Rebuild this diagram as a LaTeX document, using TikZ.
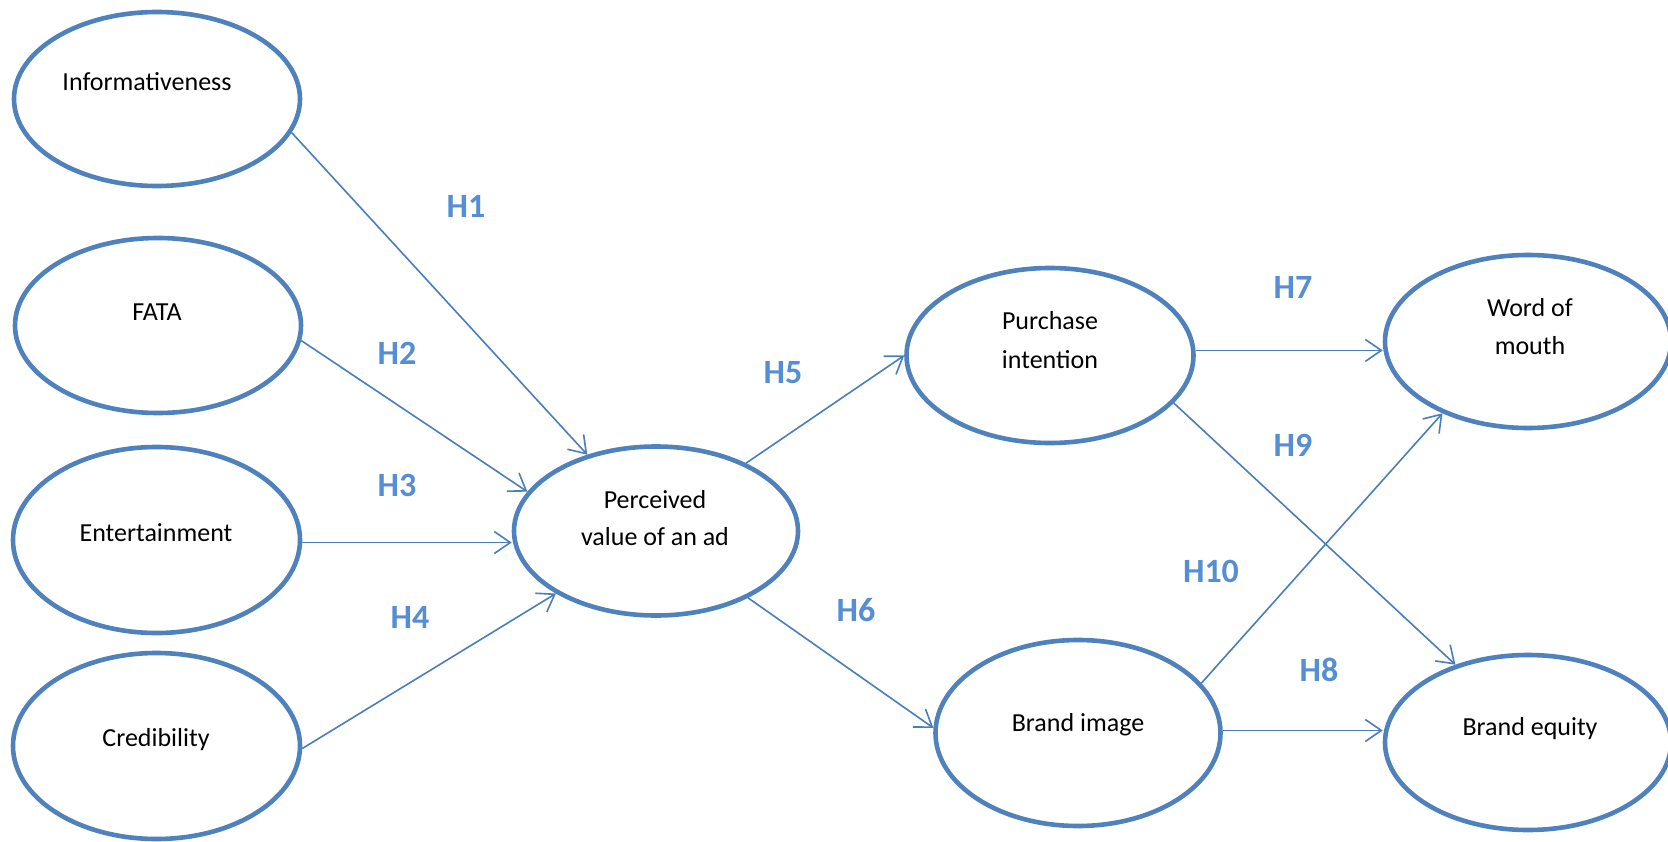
\documentclass[tikz,border=0pt]{standalone}
\usepackage{fontspec}
\setmainfont{Carlito}
\usetikzlibrary{arrows.meta,shapes.geometric}
\definecolor{ovalc}{RGB}{79,129,189}
\definecolor{arrowc}{RGB}{74,126,187}
\definecolor{hypc}{RGB}{85,142,213}
\tikzset{
  oval/.style={ellipse, draw=ovalc, line width=4.6pt, fill=white, inner sep=0pt},
  txt/.style={anchor=base, inner sep=0pt, font=\fontsize{26}{36}\selectfont},
  hyp/.style={inner sep=0pt, text=hypc, font=\fontsize{34}{40}\selectfont\bfseries},
  link/.style={draw=arrowc, line width=1.6pt, -{Straight Barb[length=16pt,width=22pt]}}
}
\begin{document}
\begin{tikzpicture}[x=1pt,y=-1pt]
\useasboundingbox (0,0) rectangle (1668,842);

% constructs
\node[oval, minimum width=286pt, minimum height=174pt] (inf)  at (157,99)    {};
\node[oval, minimum width=286pt, minimum height=175pt] (fata) at (158,325.5) {};
\node[oval, minimum width=287pt, minimum height=186pt] (ent)  at (156.5,540) {};
\node[oval, minimum width=287pt, minimum height=186pt] (cred) at (156.5,746) {};
\node[oval, minimum width=284pt, minimum height=169pt] (perc) at (656,531)   {};
\node[oval, minimum width=287pt, minimum height=175pt] (pur)  at (1050,355.5){};
\node[oval, minimum width=286pt, minimum height=173pt] (wom)  at (1528,341.5){};
\node[oval, minimum width=285pt, minimum height=186pt] (bi)   at (1078,733)  {};
\node[oval, minimum width=286pt, minimum height=175pt] (be)   at (1528,742.5){};

% construct names
\node[txt] (inf-t)   at (147,91)   {Informativeness};
\node[txt] (fata-t)  at (157,320)  {FATA};
\node[txt] (ent-t)   at (156,541)  {Entertainment};
\node[txt] (cred-t)  at (156,746)  {Credibility};
\node[txt] (perc-t1) at (655,508)  {Perceived};
\node[txt] (perc-t2) at (655,545)  {value of an ad};
\node[txt] (pur-t1)  at (1050,330) {Purchase};
\node[txt] (pur-t2)  at (1050,368) {intention};
\node[txt] (wom-t1)  at (1530,317) {Word of};
\node[txt] (wom-t2)  at (1530,354) {mouth};
\node[txt] (bi-t)    at (1078,731) {Brand image};
\node[txt] (be-t)    at (1530,735) {Brand equity};

% hypothesised paths
\draw[link] (inf.-14.4) -- (perc.132);
\draw[link] (fata.-6.8) -- (perc.163.7);
\draw[link] (ent.-1) -- (ent.-1 -| perc.west);
\draw[link] (cred.-1.6) -- (perc.212);
\draw[link] (perc.37.4) -- (pur.180);
\draw[link] (perc.-36.4) -- (bi.178.4);
\draw[link] (pur.2) -- (pur.2 -| wom.west);
\draw[link] (pur.-21.5) -- (be.133);
\draw[link] (bi.22.4) -- (wom.220);
\draw[link] (bi.1) -- (bi.1 -| be.west);

% hypothesis labels
\node[hyp] (h1)  at (466,206)  {H1};
\node[hyp] (h2)  at (397,353)  {H2};
\node[hyp] (h3)  at (397,485)  {H3};
\node[hyp] (h4)  at (410,617)  {H4};
\node[hyp] (h5)  at (783,373)  {H5};
\node[hyp] (h6)  at (856,610)  {H6};
\node[hyp] (h7)  at (1293,287) {H7};
\node[hyp] (h9)  at (1293,445) {H9};
\node[hyp] (h10) at (1211,571) {H10};
\node[hyp] (h8)  at (1319,670) {H8};
\end{tikzpicture}
\end{document}
